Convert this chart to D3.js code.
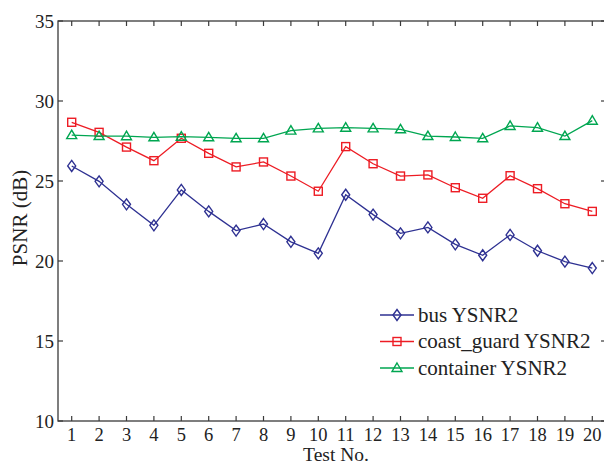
<!DOCTYPE html>
<html>
<head>
<meta charset="utf-8">
<script src="https://cdn.jsdelivr.net/npm/d3@7"></script>
<style>
  body { margin: 0; background: #fff; }
  svg { display: block; font-family: "Liberation Serif", "DejaVu Serif", serif; }
</style>
</head>
<body>
<svg id="chart" width="604" height="465"></svg>
<script>
// data
const testNo = d3.range(1, 21);
const yTicks = [10, 15, 20, 25, 30, 35];
const busY = [25.94, 24.98, 23.54, 22.23, 24.44, 23.1, 21.9, 22.31, 21.2, 20.48,
              24.14, 22.9, 21.73, 22.1, 21.04, 20.36, 21.63, 20.64, 19.96, 19.56];
const coastY = [28.67, 28.04, 27.12, 26.27, 27.67, 26.73, 25.88, 26.19, 25.31, 24.36,
                27.15, 26.08, 25.31, 25.38, 24.58, 23.92, 25.33, 24.52, 23.58, 23.1];
const containerY = [27.87, 27.81, 27.8, 27.73, 27.77, 27.73, 27.67, 27.67, 28.15, 28.29,
                    28.33, 28.29, 28.23, 27.81, 27.75, 27.67, 28.44, 28.33, 27.81, 28.77];
const seriesNames = ['bus YSNR2', 'coast_guard YSNR2', 'container YSNR2'];

const svg = d3.select('#chart');
const plotL = 58, plotT = 21, plotR = 606, plotB = 421;

const x = d3.scaleLinear().domain([0.5, 20.5]).range([plotL, plotR]);
const y = d3.scaleLinear().domain([10, 35]).range([plotB, plotT]);

const axisColor = '#3a3a3a';
const textColor = '#222';
const series = [
  { name: seriesNames[0], values: busY, color: '#2E3192', shape: 'diamond' },
  { name: seriesNames[1], values: coastY, color: '#ED1C24', shape: 'square' },
  { name: seriesNames[2], values: containerY, color: '#00A651', shape: 'triangle' }
];

function marker(g, shape, color) {
  if (shape === 'diamond') {
    g.append('path').attr('d', 'M0,-5.5L4,0L0,5.5L-4,0Z');
  } else if (shape === 'square') {
    g.append('rect').attr('x', -4).attr('y', -4).attr('width', 8).attr('height', 8);
  } else {
    g.append('path').attr('d', 'M0,-5L5,3.5L-5,3.5Z');
  }
  g.selectAll('path,rect').attr('fill', 'none').attr('stroke', color).attr('stroke-width', 1.4);
}

// frame: axes on left and bottom, box on top and right
svg.append('rect')
  .attr('x', plotL).attr('y', plotT).attr('width', plotR - plotL).attr('height', plotB - plotT)
  .attr('fill', 'none').attr('stroke', axisColor).attr('stroke-width', 1.3);

const tickLen = 5;
const tk = svg.append('g').attr('stroke', axisColor).attr('stroke-width', 1.2);
testNo.forEach(t => {
  tk.append('line').attr('x1', x(t)).attr('x2', x(t)).attr('y1', plotB).attr('y2', plotB - tickLen);
  tk.append('line').attr('x1', x(t)).attr('x2', x(t)).attr('y1', plotT).attr('y2', plotT + tickLen);
});
yTicks.forEach(v => {
  tk.append('line').attr('x1', plotL).attr('x2', plotL + tickLen).attr('y1', y(v)).attr('y2', y(v));
  tk.append('line').attr('x1', plotR).attr('x2', plotR - tickLen).attr('y1', y(v)).attr('y2', y(v));
});

// tick labels
svg.append('g').selectAll('text').data(testNo).join('text')
  .attr('x', d => x(d)).attr('y', plotB + 19.5)
  .attr('text-anchor', 'middle').attr('font-size', 18.5).attr('fill', textColor)
  .text(d => d);
svg.append('g').selectAll('text').data(yTicks).join('text')
  .attr('x', plotL - 4).attr('y', d => y(d) + 6.5)
  .attr('text-anchor', 'end').attr('font-size', 19).attr('fill', textColor)
  .text(d => d);

// axis titles
svg.append('text')
  .attr('x', 336).attr('y', 460.5)
  .attr('text-anchor', 'middle').attr('font-size', 19.5).attr('fill', textColor)
  .text('Test No.');
svg.append('text')
  .attr('transform', 'translate(27,218) rotate(-90)')
  .attr('text-anchor', 'middle').attr('font-size', 21).attr('fill', textColor)
  .text('PSNR (dB)');

// lines + markers
const line = d3.line().x((d, i) => x(testNo[i])).y(d => y(d));
series.forEach(s => {
  svg.append('path').datum(s.values)
    .attr('d', line).attr('fill', 'none')
    .attr('stroke', s.color).attr('stroke-width', 1.3);
  svg.append('g').selectAll('g').data(s.values).join('g')
    .attr('transform', (d, i) => `translate(${x(testNo[i])},${y(d)})`)
    .each(function() { marker(d3.select(this), s.shape, s.color); });
});

// legend
const legend = svg.append('g').attr('transform', 'translate(380,315)');
series.forEach((s, i) => {
  const row = legend.append('g').attr('transform', `translate(0,${i * 26.5})`);
  row.append('line').attr('x1', 0).attr('x2', 34).attr('y1', 0).attr('y2', 0)
    .attr('stroke', s.color).attr('stroke-width', 1.3);
  const m = row.append('g').attr('transform', 'translate(17,0)');
  marker(m, s.shape, s.color);
  row.append('text').attr('x', 38).attr('y', 6.5)
    .attr('font-size', 21).attr('fill', textColor).text(s.name);
});
</script>
</body>
</html>
